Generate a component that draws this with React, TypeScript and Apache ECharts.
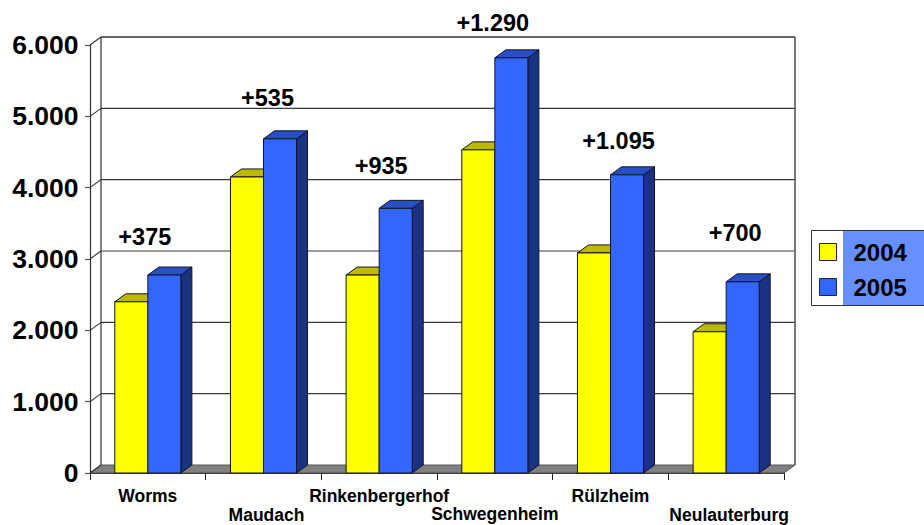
import React, { useEffect, useRef } from "react";
import * as echarts from "echarts";

const categories = ["Worms", "Maudach", "Rinkenbergerhof", "Schwegenheim", "Rülzheim", "Neulauterburg"];
const values2004 = [2400, 4150, 2775, 4530, 3085, 1980];
const values2005 = [2775, 4685, 3710, 5820, 4180, 2680];
const diffLabels = ["+375", "+535", "+935", "+1.290", "+1.095", "+700"];
const diffLabelLevels = [3310, 5260, 4310, 6305, 4655, 3370];
const diffLabelShift = [-3, 4, 2, -2, 8, 9];
const yTicks = [0, 1000, 2000, 3000, 4000, 5000, 6000];
const yTickLabels = ["0", "1.000", "2.000", "3.000", "4.000", "5.000", "6.000"];

const FONT = '"Liberation Sans", Arial, sans-serif';
const DX = 11;
const DY = -8;
const EDGE = "#14142a";

function poly(points: number[][], fill: string, stroke: string, lineWidth = 1) {
  return { type: "polygon", shape: { points }, style: { fill, stroke, lineWidth } };
}
function line(x1: number, y1: number, x2: number, y2: number, stroke: string, lineWidth = 1.2) {
  return { type: "line", shape: { x1, y1, x2, y2 }, style: { stroke, lineWidth } };
}

function frameItem(params: any, api: any) {
  const cs = params.coordSys;
  const l = cs.x, r = cs.x + cs.width, b = cs.y + cs.height;
  const children: any[] = [];
  children.push(poly([[l, b], [r, b], [r + DX, b + DY], [l + DX, b + DY]], "#808080", "#555555"));
  yTicks.forEach((t) => {
    const y = api.coord([0, t])[1];
    if (t > 0) {
      children.push(line(l + DX, y + DY, r + DX, y + DY, t === 6000 ? "#333333" : "#3a3a3a", t === 6000 ? 1.6 : 1.2));
    }
    children.push(line(l, y, l + DX, y + DY, "#333333", 1.1));
  });
  children.push(line(l + DX, cs.y + DY, l + DX, b + DY, "#333333", 1.2));
  children.push(line(r + DX, cs.y + DY, r + DX, b + DY, "#555555", 1.6));
  return { type: "group", children };
}

function barItem(front: string, top: string, side: string, sign: number) {
  return (_params: any, api: any) => {
    const c = api.value(0);
    const [cx, yt] = api.coord([c, api.value(1)]);
    const [, yb] = api.coord([c, 0]);
    const w = api.size([1, 0])[0] * 0.2857;
    const x0 = sign < 0 ? cx - w : cx;
    const x1 = x0 + w;
    return {
      type: "group",
      children: [
        poly([[x1, yt], [x1 + DX, yt + DY], [x1 + DX, yb + DY], [x1, yb]], side, EDGE),
        poly([[x0, yt], [x0 + DX, yt + DY], [x1 + DX, yt + DY], [x1, yt]], top, EDGE),
        poly([[x0, yt], [x1, yt], [x1, yb], [x0, yb]], front, EDGE),
      ],
    };
  };
}

function diffItem(params: any, api: any) {
  const i = api.value(0);
  const [x, y] = api.coord([i, api.value(1)]);
  return {
    type: "text",
    x: x + diffLabelShift[i],
    y,
    style: {
      text: diffLabels[i],
      font: `bold 23.5px ${FONT}`,
      fill: "#000000",
      align: "center",
      verticalAlign: "middle",
    },
  };
}

const labelFont = { color: "#000000", fontFamily: FONT, fontWeight: "bold", fontSize: 17.5, lineHeight: 18 };

export default function App() {
  const ref = useRef<HTMLDivElement>(null);
  useEffect(() => {
    const chart = echarts.init(ref.current!, undefined, { renderer: "svg" });
    chart.setOption({
      animation: false,
      backgroundColor: "#ffffff",
      grid: { left: 90, right: 140, top: 45, bottom: 52 },
      xAxis: {
        type: "category",
        data: categories,
        axisLine: { lineStyle: { color: "#222222", width: 1.2 } },
        axisTick: { show: true, length: 7, lineStyle: { color: "#222222", width: 1 } },
        axisLabel: {
          ...labelFont,
          interval: 0,
          margin: 14,
          hideOverlap: false,
          formatter: (v: string, i: number) => {
            if (i === 1 || i === 5) return "\n{s|" + v + "}";
            return i % 2 ? "\n" + v : v;
          },
          rich: { s: { ...labelFont, padding: [1, 0, 0, 6] } },
        },
        splitLine: { show: false },
      },
      yAxis: {
        type: "value",
        min: 0,
        max: 6000,
        interval: 1000,
        axisLine: { show: true, lineStyle: { color: "#333333", width: 1.2 } },
        axisTick: { show: true, length: 5, lineStyle: { color: "#555555", width: 1.2 } },
        axisLabel: {
          margin: 11.5,
          color: "#000000",
          fontFamily: FONT,
          fontWeight: "bold",
          fontSize: 26.5,
          formatter: (v: number) => yTickLabels[yTicks.indexOf(v)],
        },
        splitLine: { show: false },
      },
      legend: {
        data: ["2004", "2005"],
        orient: "vertical",
        left: 819,
        top: 240,
        itemWidth: 17,
        itemHeight: 17,
        itemGap: 11,
        icon: "rect",
        z: 10,
        padding: 0,
        selectedMode: false,
        itemStyle: { borderColor: "#222244", borderWidth: 1 },
        textStyle: { color: "#000000", fontFamily: FONT, fontWeight: "bold", fontSize: 24, padding: [0, 0, 0, 12] },
      },
      graphic: [
        { type: "rect", left: 811, top: 230, z: 1, shape: { width: 113, height: 75 }, style: { fill: "#ffffff", stroke: "#333333", lineWidth: 1 } },
        { type: "rect", left: 843, top: 231, z: 2, shape: { width: 81, height: 74 }, style: { fill: "#6690ff" } },
      ],
      series: [
        { type: "custom", name: "frame", renderItem: frameItem, data: [[0, 0]], silent: true, z: 1 },
        {
          type: "custom",
          name: "2004",
          renderItem: barItem("#ffff00", "#bdb800", "#8c8a00", -1),
          data: values2004.map((v, i) => [i, v]),
          itemStyle: { color: "#ffff00" },
          z: 2,
        },
        {
          type: "custom",
          name: "2005",
          renderItem: barItem("#3366ff", "#2850c4", "#1a3380", 1),
          data: values2005.map((v, i) => [i, v]),
          itemStyle: { color: "#3366ff" },
          z: 3,
        },
        {
          type: "custom",
          name: "diff",
          renderItem: diffItem,
          data: diffLabelLevels.map((v, i) => [i, v]),
          z: 4,
        },
      ],
    });
    return () => chart.dispose();
  }, []);
  return <div ref={ref} style={{ position: "absolute", left: 0, top: 0, width: 924, height: 525 }} />;
}
